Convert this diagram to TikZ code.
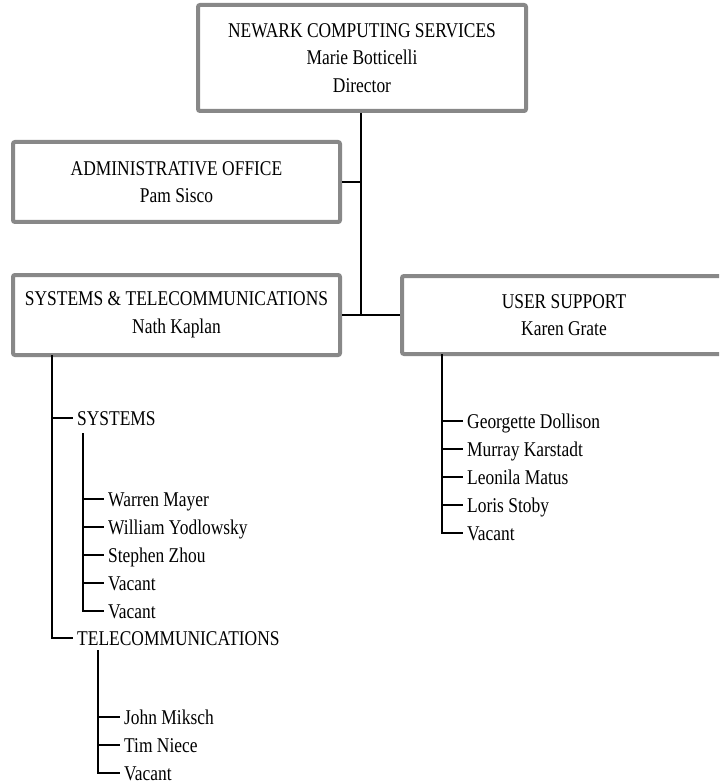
\documentclass[tikz,border=0pt]{standalone}
\usepackage{fontspec}
\setmainfont{Liberation Serif}[FakeStretch=0.83]
\usepackage{tikz}
\tikzset{
  unitbox/.style = {shape=rectangle, rounded corners=2pt, draw=boxgray,
                    line width=4pt, align=center, inner sep=0pt,
                    font=\fontsize{21pt}{27.5pt}\selectfont},
  leaf/.style    = {anchor=west, inner xsep=4pt, inner ysep=0pt,
                    text height=14pt, text depth=0pt,
                    font=\fontsize{21pt}{27.5pt}\selectfont},
  link/.style    = {draw, line width=1.6pt}
}
\definecolor{boxgray}{HTML}{888888}

\begin{document}
\begin{tikzpicture}[x=1pt, y=-1pt]
  \clip (0,0) rectangle (719,783);
  \node [unitbox, minimum width=328pt, minimum height=106pt] (ncs) at (362,58)
    {NEWARK COMPUTING SERVICES\\Marie Botticelli\\Director};
  \node [unitbox, minimum width=327pt, minimum height=80pt] (admin) at (176.5,182)
    {ADMINISTRATIVE OFFICE\\Pam Sisco};
  \node [unitbox, minimum width=327pt, minimum height=80pt] (systel) at (176.5,315)
    {SYSTEMS \& TELECOMMUNICATIONS\\Nath Kaplan};
  \node [unitbox, minimum width=324pt, minimum height=78pt] (usersup) at (564,315)
    {USER SUPPORT\\Karen Grate};

  \coordinate (hub) at (361,315);
  \path [link]
    (ncs.south -| hub) -- (hub)
    (admin.east) -- (admin.east -| hub)
    (systel.east) -- (usersup.west);

  % systems & telecommunications
  \coordinate (stv) at (52,355);
  \node [leaf] (systems) at (73,418) {SYSTEMS};
  \node [leaf] (telecom) at (73,638) {TELECOMMUNICATIONS};
  \path [link] (stv) |- (systems.west) (stv) |- (telecom.west);

  \coordinate (sysv) at (83,433);
  \foreach \nm/\txt [count=\i] in {warren/Warren Mayer, william/William Yodlowsky,
      stephen/Stephen Zhou, sysvac1/Vacant, sysvac2/Vacant}
  {
    \node [leaf] (\nm) at (104,471+28*\i) {\txt};
    \path [link] (sysv) |- (\nm.west);
  }

  \coordinate (telv) at (98,650);
  \foreach \nm/\txt [count=\i] in {john/John Miksch, tim/Tim Niece, telvac/Vacant}
  {
    \node [leaf] (\nm) at (120,689+28*\i) {\txt};
    \path [link] (telv) |- (\nm.west);
  }

  % user support
  \coordinate (usv) at (442,354);
  \foreach \nm/\txt [count=\i] in {georgette/Georgette Dollison, murray/Murray Karstadt,
      leonila/Leonila Matus, loris/Loris Stoby, usvac/Vacant}
  {
    \node [leaf] (\nm) at (463,393+28*\i) {\txt};
    \path [link] (usv) |- (\nm.west);
  }
\end{tikzpicture}
\end{document}
